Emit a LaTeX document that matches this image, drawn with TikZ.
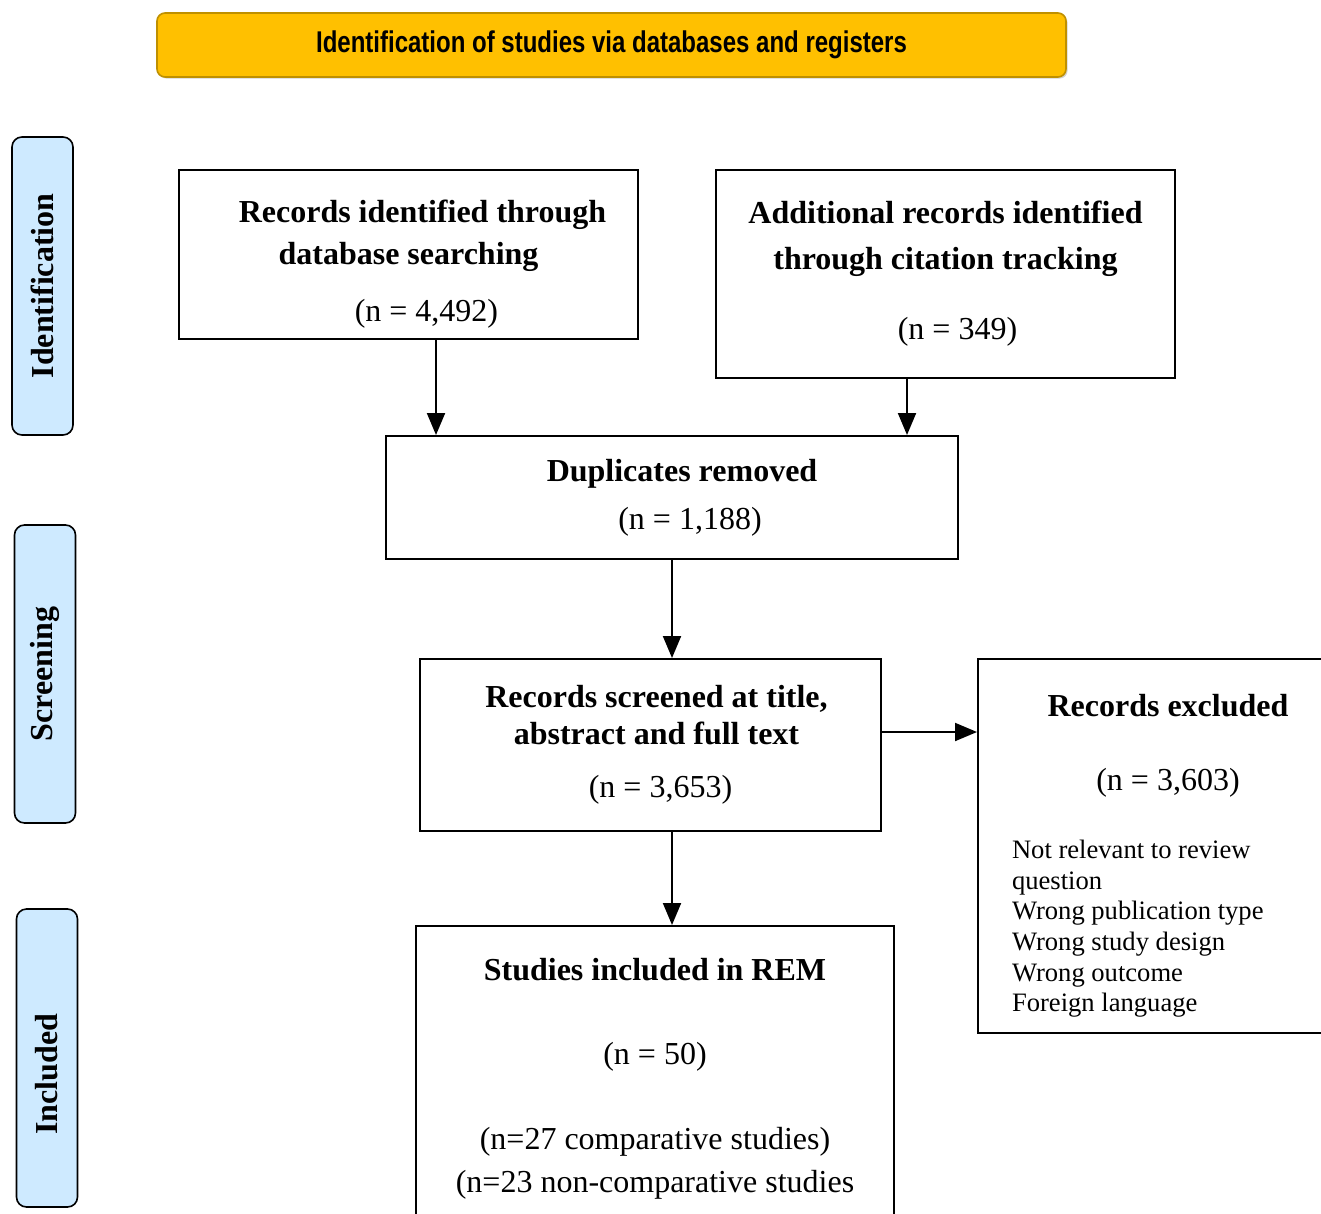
\documentclass[tikz,border=0pt]{standalone}
\usepackage{fontspec}
\usepackage{graphicx}
\setmainfont{Liberation Serif}
\newfontfamily\bannerfont{Liberation Sans}
\usetikzlibrary{arrows.meta,positioning,shadows}
\definecolor{bannerfill}{RGB}{255,192,0}
\definecolor{bannerline}{RGB}{191,144,0}
\definecolor{stagefill}{RGB}{206,234,255}
\newcommand{\fontspaces}{\spaceskip=\fontdimen2\font\relax\xspaceskip=\fontdimen2\font\relax}

\begin{document}
\begin{tikzpicture}[x=0.5pt,y=-0.5pt,
  box/.style={draw, line width=1pt, align=center, inner sep=0pt, font=\fontsize{16}{21}\selectfont},
  stage/.style={draw, line width=0.8pt, rounded corners=5pt, fill=stagefill, rotate=90,
    minimum width=149pt, minimum height=30.5pt, font=\bfseries\fontsize{16}{19}\selectfont},
  arr/.style={line width=1pt, -{Triangle[length=11pt,width=9pt]}}]
\useasboundingbox (0,0) rectangle (1321,1214);

% title bar
\node[draw=bannerline, fill=bannerfill, line width=0.8pt, rounded corners=4pt,
  minimum width=454.5pt, minimum height=32pt,
  drop shadow={shadow xshift=0.8pt, shadow yshift=-0.8pt, opacity=0.35}] (banner) at (611.5,45)
  {\bannerfont\bfseries\fontsize{15}{18}\selectfont\raisebox{-1.8pt}{\scalebox{0.8}[1]{Identification of studies via databases and registers}}};

% stages
\node[stage] (identstage) at (42.5,286) {Identification};
\node[stage] (screenstage) at (45,674) {Screening};
\node[stage] (inclstage) at (47,1058) {Included\kern16pt};

% identification
\node[box, minimum width=229.5pt, minimum height=84.5pt] (dbrec) at (408.5,254.5)
  {\rule{0pt}{21pt}\hspace{14pt}\textbf{Records identified through}\\\textbf{database searching}\\[7.5pt]\hspace{18pt}(n = 4,492)};
\node[box, minimum width=229.5pt, minimum height=104pt] (citrec) at (945.5,274)
  {\textbf{Additional records identified}\\[2pt]\textbf{through citation tracking}\\[14pt]\hspace{12pt}(n = 349)};
\node[box, minimum width=286pt, minimum height=61.5pt] (dup) at (672,497.5)
  {\hspace{10pt}\textbf{Duplicates removed}\\[3pt]\hspace{18pt}(n = 1,188)};

% screening
\node[box, minimum width=230.5pt, minimum height=86pt] (screen) at (650.5,745)
  {\hspace{6pt}\textbf{Records screened at title,}\\[-2.5pt]\hspace{6pt}\textbf{abstract and full text}\\[5.5pt]\hspace{10pt}(n = 3,653)};
\node[box, text width=150pt, inner xsep=17pt, minimum height=187pt] (excl) at (1162,846)
  {\fontspaces\rule{0pt}{21pt}\hspace{6pt}\textbf{Records excluded}\\[16pt]\hspace{6pt}(n = 3,603)\\[13pt]
   \parbox[t]{150pt}{\raggedright\fontsize{13.3}{15.35}\selectfont\fontspaces Not relevant to review\par question\par Wrong publication type\par Wrong study design\par Wrong outcome\par Foreign language}};

% included
\node[box, minimum width=239pt, minimum height=153pt] (incl) at (655,1079)
  {\textbf{Studies included in REM}\\[21pt](n = 50)\\[21.5pt](n=27 comparative studies)\\[0.5pt](n=23 non-comparative studies};

% arrows
\coordinate (a1) at ([xshift=13.75pt]dbrec.south);
\coordinate (a2) at ([xshift=-19.25pt]citrec.south);
\coordinate (d1) at ([yshift=6.5pt]screen.east);
\coordinate (d2) at (screen.south -| dup.south);
\draw[arr] (a1) -- (a1 |- dup.north);
\draw[arr] (a2) -- (a2 |- dup.north);
\draw[arr] (dup.south) -- (dup.south |- screen.north);
\draw[arr] (d1) -- (d1 -| excl.west);
\draw[arr] (d2) -- (d2 |- incl.north);
\end{tikzpicture}
\end{document}
